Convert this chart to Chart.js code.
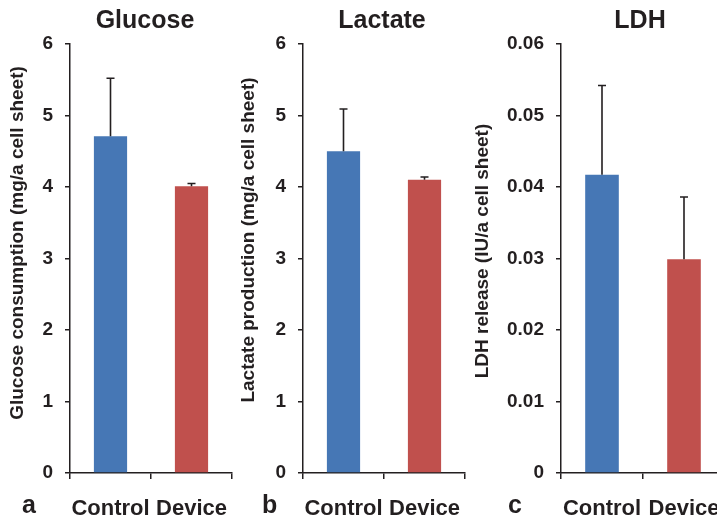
<!DOCTYPE html>
<html>
<head>
<meta charset="utf-8">
<script src="https://cdn.jsdelivr.net/npm/chart.js@4.4.1/dist/chart.umd.min.js"></script>
<style>
  html, body { margin: 0; padding: 0; background: #fff; overflow: hidden; }
  body { width: 717px; height: 519px; position: relative; }
  .panel { position: absolute; top: 0; height: 519px; }
</style>
</head>
<body>
<div class="panel" style="left:0;width:235px"><canvas id="glucoseChart"></canvas></div>
<div class="panel" style="left:235px;width:235px"><canvas id="lactateChart"></canvas></div>
<div class="panel" style="left:470px;width:260px"><canvas id="ldhChart"></canvas></div>
<script>
const categories = ['Control', 'Device'];
const barColors = ['#4677b5', '#c0504d'];

const glucose = [4.71, 4.01];
const glucoseErr = [0.81, 0.04];
const glucoseTicks = [0, 6, 1];

const lactate = [4.50, 4.10];
const lactateErr = [0.59, 0.04];
const lactateTicks = [0, 6, 1];

const ldh = [0.0417, 0.0299];
const ldhErr = [0.0125, 0.0087];
const ldhTicks = [0, 0.06, 0.01];

const ink = '#231f20';
const fontFamily = '"Liberation Sans", Arial, sans-serif';

// upper error bars with a small cap
const errorBars = {
    id: 'errorBars',
    afterDatasetsDraw(chart) {
        const errs = chart.options.plugins.errorBars.values;
        const y = chart.scales.y;
        const ctx = chart.ctx;
        const meta = chart.getDatasetMeta(0);
        ctx.save();
        ctx.strokeStyle = ink;
        ctx.lineWidth = 1.6;
        meta.data.forEach(function (bar, i) {
            const v = chart.data.datasets[0].data[i];
            const top = y.getPixelForValue(v + errs[i]);
            ctx.beginPath();
            ctx.moveTo(bar.x, bar.y);
            ctx.lineTo(bar.x, top);
            ctx.moveTo(bar.x - 4, top);
            ctx.lineTo(bar.x + 4, top);
            ctx.stroke();
        });
        ctx.restore();
    }
};

// panel title, letter and rotated y title
const panelText = {
    id: 'panelText',
    afterDraw(chart) {
        const o = chart.options.plugins.panelText;
        const ctx = chart.ctx;
        ctx.save();
        ctx.fillStyle = ink;
        ctx.textBaseline = 'alphabetic';
        ctx.textAlign = 'center';
        ctx.font = 'bold 25px ' + fontFamily;
        ctx.fillText(o.title, o.titleX, 28);
        ctx.textAlign = 'left';
        ctx.font = 'bold 25px ' + fontFamily;
        ctx.fillText(o.letter, o.letterX, 513);
        ctx.translate(o.yTitleX, o.yTitleY);
        ctx.rotate(-Math.PI / 2);
        ctx.textAlign = 'center';
        ctx.textBaseline = 'middle';
        ctx.font = 'bold 19px ' + fontFamily;
        ctx.fillText(o.yTitle, 0, 0);
        ctx.restore();
    }
};

function makePanel(id, values, errs, ticks, yWidth, padRight, text) {
    const ctx = document.getElementById(id).getContext('2d');
    const config = {
        type: 'bar',
        data: {
            labels: categories,
            datasets: [{
                data: values,
                backgroundColor: barColors,
                borderWidth: 0,
                barPercentage: 0.41,
                categoryPercentage: 1
            }]
        },
        options: {
            responsive: true,
            maintainAspectRatio: false,
            animation: false,
            layout: {
                padding: { top: 44, left: 0, right: padRight, bottom: 0 }
            },
            plugins: {
                legend: { display: false },
                tooltip: { enabled: false },
                errorBars: { values: errs },
                panelText: text
            },
            scales: {
                x: {
                    grid: {
                        display: true,
                        offset: true,
                        drawOnChartArea: false,
                        drawTicks: true,
                        tickLength: 6,
                        color: ink,
                        lineWidth: 1.5
                    },
                    border: { display: true, color: ink, width: 1.5 },
                    ticks: {
                        color: ink,
                        padding: 17,
                        maxRotation: 0,
                        minRotation: 0,
                        autoSkip: false,
                        font: { family: fontFamily, size: 22, weight: 'bold' }
                    },
                    afterFit: function (scale) {
                        scale.height = 46;
                        scale.paddingLeft = 0;
                        scale.paddingRight = 0;
                    }
                },
                y: {
                    min: ticks[0],
                    max: ticks[1],
                    grid: {
                        display: true,
                        drawOnChartArea: false,
                        drawTicks: true,
                        tickLength: 5,
                        color: ink,
                        lineWidth: 1.5
                    },
                    border: { display: true, color: ink, width: 1.5 },
                    ticks: {
                        stepSize: ticks[2],
                        color: ink,
                        padding: 12,
                        font: { family: fontFamily, size: 19, weight: 'bold' }
                    },
                    afterFit: function (scale) { scale.width = yWidth; }
                }
            }
        },
        plugins: [errorBars, panelText]
    };
    return new Chart(ctx, config);
}

document.addEventListener('DOMContentLoaded', function () {
    makePanel('glucoseChart', glucose, glucoseErr, glucoseTicks, 70, 3, {
        title: 'Glucose', titleX: 145, letter: 'a', letterX: 22,
        yTitle: 'Glucose consumption (mg/a cell sheet)', yTitleX: 18, yTitleY: 243
    });
    makePanel('lactateChart', lactate, lactateErr, lactateTicks, 68, 5, {
        title: 'Lactate', titleX: 147, letter: 'b', letterX: 27,
        yTitle: 'Lactate production (mg/a cell sheet)', yTitleX: 14, yTitleY: 240
    });
    makePanel('ldhChart', ldh, ldhErr, ldhTicks, 91, 5, {
        title: 'LDH', titleX: 170, letter: 'c', letterX: 38,
        yTitle: 'LDH release (IU/a cell sheet)', yTitleX: 13, yTitleY: 251
    });
});
</script>
</body>
</html>
